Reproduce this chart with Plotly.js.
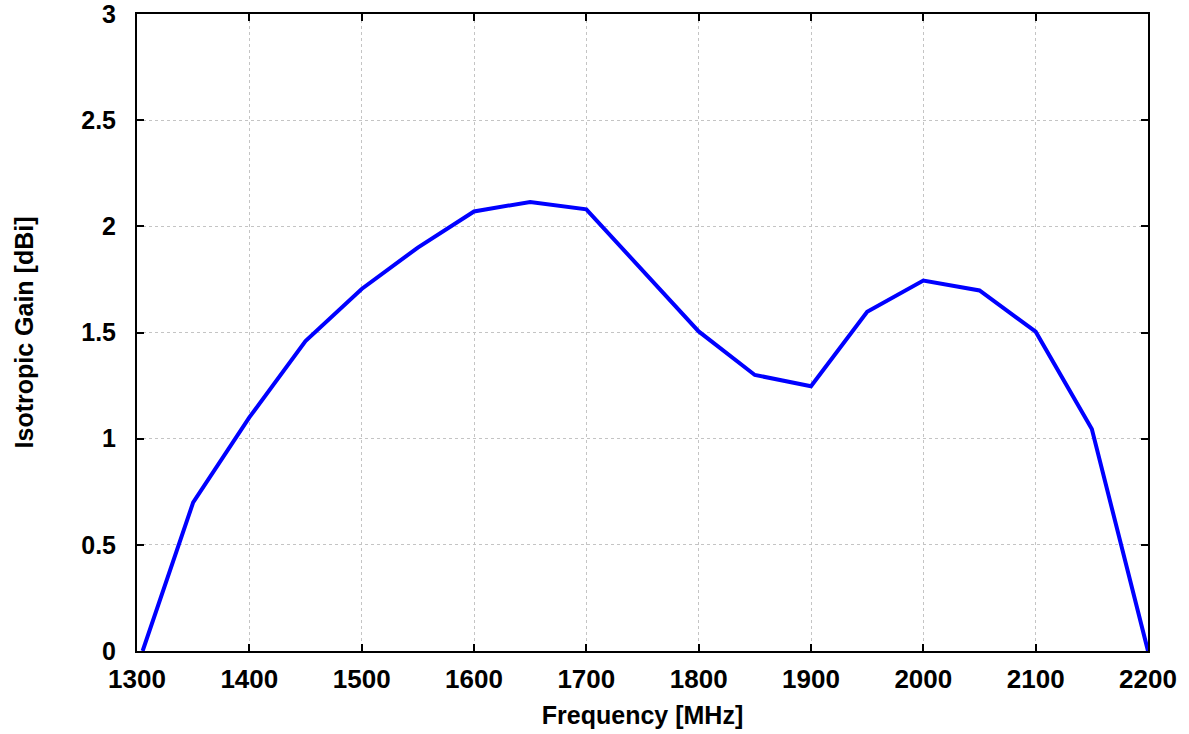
<!DOCTYPE html>
<html>
<head>
<meta charset="utf-8">
<script src="https://cdn.plot.ly/plotly-3.0.1.min.js"></script>
<style>html,body{margin:0;padding:0;background:#fff;}#chart{width:1189px;height:734px;}</style>
</head>
<body>
<div id="chart"></div>
<script>
const frequencyMHz = [1305, 1350, 1400, 1450, 1500, 1550, 1600, 1650, 1700, 1750, 1800, 1850, 1900, 1950, 2000, 2050, 2100, 2150, 2200];
const gainDBi = [0, 0.70, 1.10, 1.46, 1.705, 1.90, 2.07, 2.115, 2.08, 1.79, 1.505, 1.30, 1.247, 1.598, 1.745, 1.698, 1.504, 1.045, 0];
const xTicks = [1300, 1400, 1500, 1600, 1700, 1800, 1900, 2000, 2100, 2200];
const yTicks = [0, 0.5, 1, 1.5, 2, 2.5, 3];
const yTickText = ['0', '0.5', '1', '1.5', '2', '2.5', '3'];

const fam = 'Liberation Sans, Arial, sans-serif';

const trace = {
  x: frequencyMHz,
  y: gainDBi,
  type: 'scatter',
  mode: 'lines',
  line: {color: '#0000ff', width: 4},
  hoverinfo: 'x+y'
};

const axisCommon = {
  showline: true, linecolor: '#000', linewidth: 2, mirror: 'allticks',
  ticks: 'inside', ticklen: 7, tickwidth: 2, tickcolor: '#000',
  showgrid: true, gridcolor: '#c4c4c4', gridwidth: 1, griddash: 'dot',
  zeroline: false, ticklabeloverflow: 'allow',
  tickfont: {family: fam, size: 26, color: '#000', weight: 'bold'}
};

const layout = {
  width: 1189, height: 734,
  margin: {l: 137, r: 41, t: 14, b: 83},
  paper_bgcolor: '#fff', plot_bgcolor: '#fff',
  showlegend: false,
  font: {family: fam, size: 26, color: '#000'},
  xaxis: Object.assign({}, axisCommon, {
    range: [1300, 2200], tickmode: 'array', tickvals: xTicks, ticktext: xTicks.map(String),
    ticklabelstandoff: 4,
    title: {text: '<b>Frequency [MHz]</b>', font: {family: fam, size: 25, color: '#000'}, standoff: 13}
  }),
  yaxis: Object.assign({}, axisCommon, {
    range: [0, 3], tickmode: 'array', tickvals: yTicks, ticktext: yTickText,
    tickfont: {family: fam, size: 25, color: '#000', weight: 'bold'},
    ticklabelstandoff: 14,
    title: {text: '<b>Isotropic Gain [dBi]</b>', font: {family: fam, size: 25, color: '#000'}, standoff: 40}
  })
};

Plotly.newPlot('chart', [trace], layout, {displayModeBar: false, staticPlot: true});
</script>
</body>
</html>
